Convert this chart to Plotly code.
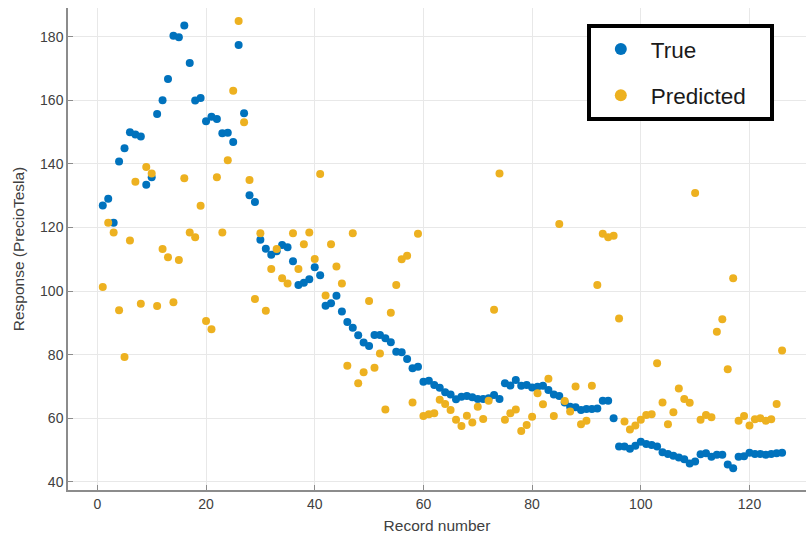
import plotly.graph_objects as go

records = list(range(1, 127))

true_vals = [
    126.9, 129.0, 121.5, 140.7, 144.9, 149.9, 149.2, 148.6, 133.4, 135.8,
    155.7, 160.0, 166.7, 180.3, 179.8, 183.5, 171.7, 159.9, 160.7, 153.4,
    154.8, 154.1, 149.6, 149.8, 146.9, 177.4, 155.9, 130.1, 128.0, 116.1,
    113.3, 111.4, 112.5, 114.5, 113.8, 109.4, 101.9, 102.6, 103.7, 107.5,
    105.0, 95.4, 96.2, 98.5, 93.6, 90.3, 88.5, 86.1, 83.8, 82.7,
    86.2, 86.2, 85.2, 83.9, 80.9, 80.8, 78.6, 75.7, 76.2, 71.5,
    71.8, 70.5, 69.6, 68.2, 67.5, 66.0, 66.8, 67.0, 66.6, 66.1,
    66.1, 66.3, 67.3, 66.1, 71.0, 70.3, 72.0, 70.2, 70.5, 69.7,
    69.9, 70.2, 68.9, 67.5, 67.0, 65.0, 63.6, 63.5, 62.6, 62.9,
    62.9, 63.1, 65.5, 65.5, 60.0, 51.1, 51.1, 50.4, 51.4, 52.6,
    51.9, 51.6, 51.1, 49.3, 48.8, 48.2, 47.7, 47.1, 45.8, 46.4,
    48.7, 49.0, 47.9, 48.5, 48.5, 45.5, 44.3, 47.9, 48.1, 49.2,
    48.8, 48.8, 48.5, 48.8, 49.0, 49.2,
]

pred_vals = [
    101.3, 121.5, 118.4, 94.0, 79.3, 115.9, 134.4, 96.0, 139.0, 137.0,
    95.3, 113.2, 110.6, 96.5, 109.8, 135.5, 118.4, 116.9, 126.8, 90.6,
    88.0, 135.8, 118.4, 141.1, 163.0, 184.9, 153.1, 134.9, 97.5, 118.2,
    93.8, 106.9, 113.2, 104.0, 102.4, 118.2, 106.9, 114.7, 118.4, 110.1,
    136.8, 98.6, 114.7, 107.7, 102.4, 76.5, 118.2, 71.0, 74.5, 96.9,
    75.9, 80.4, 62.8, 93.2, 101.9, 110.0, 111.1, 65.0, 118.0, 60.7,
    61.3, 61.6, 65.8, 64.5, 62.6, 59.5, 57.6, 60.8, 58.7, 63.6,
    59.8, 65.5, 94.1, 137.0, 59.5, 61.6, 62.8, 56.0, 57.9, 60.5,
    67.9, 64.4, 72.4, 60.7, 121.1, 65.4, 62.1, 70.0, 58.1, 59.2,
    70.2, 101.9, 118.0, 116.9, 117.4, 91.4, 59.0, 56.5, 57.7, 59.5,
    61.0, 61.3, 77.3, 65.0, 58.1, 61.9, 69.4, 66.1, 64.9, 130.8,
    59.5, 61.0, 60.3, 87.2, 91.1, 75.4, 104.0, 59.2, 60.7, 57.7,
    59.7, 60.0, 59.2, 59.7, 64.5, 81.3,
]

x_ticks = [0, 20, 40, 60, 80, 100, 120]
y_ticks = [40, 60, 80, 100, 120, 140, 160, 180]

BLUE = "#0072BD"
ORANGE = "#EDB120"
TEXT = "#404040"

fig = go.Figure()
fig.add_trace(go.Scatter(
    x=records, y=true_vals, mode="markers", name="True",
    marker=dict(color=BLUE, size=8, line=dict(width=0)),
    legendgroup="a",
))
fig.add_trace(go.Scatter(
    x=records, y=pred_vals, mode="markers", name="Predicted\u00a0\u00a0\u00a0",
    marker=dict(color=ORANGE, size=8, line=dict(width=0)),
    legendgroup="b",
))

axis_common = dict(
    showgrid=True, gridcolor="#e8e8e8", gridwidth=1,
    showline=True, linecolor="#8c8c8c", linewidth=1.5,
    ticks="inside", ticklen=5, tickcolor="#8c8c8c", tickwidth=1,
    zeroline=False, mirror=False,
    tickfont=dict(family="Liberation Sans, Arial, sans-serif", size=14, color=TEXT),
)

fig.update_layout(
    width=806, height=541,
    margin=dict(l=68, r=0, t=8, b=51),
    paper_bgcolor="white", plot_bgcolor="white",
    font=dict(family="Liberation Sans, Arial, sans-serif", color=TEXT),
    xaxis=dict(
        range=[-5.4, 130.4], tickvals=x_ticks,
        title=dict(text="Record number", font=dict(size=15.5, color=TEXT), standoff=10),
        **axis_common,
    ),
    yaxis=dict(
        range=[37.45, 189.0], tickvals=y_ticks,
        title=dict(text="Response (PrecioTesla)", font=dict(size=15.5, color=TEXT), standoff=12),
        **axis_common,
    ),
    legend=dict(
        x=0.703, y=0.967, xanchor="left", yanchor="top",
        bgcolor="white", bordercolor="black", borderwidth=4,
        font=dict(family="Liberation Sans, Arial, sans-serif", size=22.5, color="#1a1a1a"),
        itemsizing="constant", tracegroupgap=14, itemwidth=50,
    ),
)

fig.write_html("out.html")
